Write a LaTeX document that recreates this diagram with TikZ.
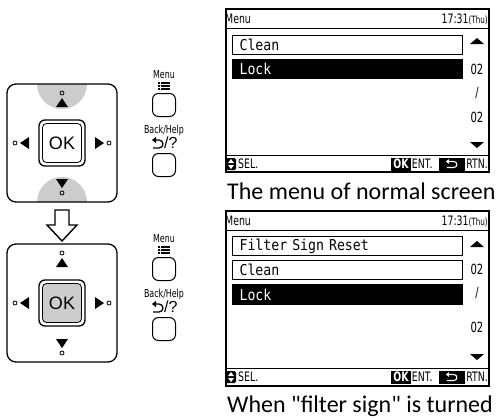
\documentclass[tikz,border=0pt]{standalone}
\usepackage{fontspec}
\setmainfont{Carlito}[Ligatures=TeXOff]
\newfontfamily\lcdfont{DejaVu Sans Mono}[FakeStretch=0.88]
\newfontfamily\smallfont{DejaVu Sans}[FakeStretch=0.72]
\newfontfamily\keyfont{Liberation Sans}
\usetikzlibrary{
  arrows.meta,
  positioning,
  calc,
}

\tikzset{
  padframe/.style={draw, line width=1.3pt, rounded corners=9pt, minimum width=110pt, minimum height=118pt, inner sep=0pt},
  okkey/.style={draw, line width=1.3pt, rounded corners=6pt, minimum size=46pt, inner sep=0pt},
  okinner/.style={draw, line width=0.8pt, rounded corners=4pt, minimum size=39pt, inner sep=0pt, font=\keyfont\fontsize{18}{18}\selectfont},
  sidekey/.style={draw, line width=1pt, rounded corners=6pt, minimum size=23pt, inner sep=0pt},
  keylabel/.style={font=\smallfont\fontsize{11}{11}\selectfont, inner sep=0pt},
  lcdframe/.style={draw, line width=1.3pt},
  menurow/.style={draw, line width=1.2pt, minimum height=19pt, text width=216pt, inner xsep=7pt, inner ysep=0pt, align=left, font=\lcdfont\fontsize{15}{15}\selectfont},
  selrow/.style={fill=black, text=white},
  lcdsmall/.style={font=\smallfont\fontsize{13}{13}\selectfont, inner sep=0pt},
  pagenum/.style={font=\smallfont\fontsize{14}{14}\selectfont, inner sep=0pt},
  caption/.style={font=\fontsize{24}{24}\selectfont, inner sep=0pt, anchor=west},
}

\begin{document}
\begin{tikzpicture}[x=1pt, y=-1pt]

\useasboundingbox (0,0) rectangle (499,418);

% cross keys
\foreach \i/\dy/\capfill/\okfill in {1/0/gray!40/white,2/160/white/gray!40}{
  \begin{scope}[shift={(0,\dy)}]
    \begin{scope}
      \clip[rounded corners=9pt] (7,84) rectangle (117,202);
      \fill[\capfill] (62,84) circle (25pt);
      \fill[\capfill] (62,202) circle (25pt);
    \end{scope}
    \node[padframe] (pad-\i) at (62,143) {};
    \node[okkey] (ok-\i) at (62,143) {};
    \node[okinner, fill=\okfill] (okin-\i) at (62,143) {OK};
    \fill (56,107) -- (68,107) -- (62,98) -- cycle;
    \draw[line width=0.8pt] (62,93) circle (2pt);
    \fill (56,179) -- (68,179) -- (62,188) -- cycle;
    \draw[line width=0.8pt] (62,193) circle (2pt);
    \fill (29,137) -- (29,149) -- (20,143) -- cycle;
    \draw[line width=0.8pt] (15,143) circle (2pt);
    \fill (95,137) -- (95,149) -- (104,143) -- cycle;
    \draw[line width=0.8pt] (109,143) circle (2pt);
  \end{scope}
}

% hollow arrow
\draw[line width=1.4pt, line join=miter] (55,210) -- (69,210) -- (69,225) -- (77,225) -- (62,241) -- (47,225) -- (55,225) -- cycle;

% menu and back keys
\foreach \i/\by in {1/0,2/164}{
  \begin{scope}[shift={(0,\by)}]
    \node[keylabel] (menulbl-\i) at (164,75) {Menu};
    \foreach \k in {0,1,2}{
      \fill (158,82+\k*3.2) rectangle +(2,1.6);
      \fill (161,82+\k*3.2) rectangle +(9,1.6);
    }
    \node[sidekey] (menukey-\i) at (164,105) {};
    \node[keylabel] (backlbl-\i) at (164,130) {Back/Help};
    \node[keylabel, font=\keyfont\fontsize{16}{16}\selectfont, anchor=west] (helpq-\i) at (164,143) {/?};
    \draw[line width=1.3pt, -{Triangle[length=4pt,width=6pt]}] (153,148) -- (159,148) arc[start angle=-90, end angle=90, radius=4pt] -- (152,140);
    \node[sidekey] (backkey-\i) at (164,165) {};
  \end{scope}
}

% normal screen
\draw[lcdframe] (226,9) rectangle (489,172);
\draw[line width=1pt] (226,28) -- (489,28);
\draw[line width=1pt] (226,155) -- (489,155);
\node[lcdsmall, anchor=west] (head-1) at (225,19) {Menu};
\node[lcdsmall, anchor=east] (clock-1) at (488,19) {17:31{\fontsize{10}{10}\selectfont(Thu)}};
\node[menurow, anchor=north west] (clean-1) at (232,35) {Clean};
\node[menurow, selrow, below=4pt of clean-1] (lock-1) {Lock};
\fill (470,44) -- (484,44) -- (477,38) -- cycle;
\node[pagenum] (pa-1) at (477,69) {02};
\node[pagenum] (sl-1) at (477,93) {/};
\node[pagenum] (pb-1) at (477,117) {02};
\fill (470,142) -- (484,142) -- (477,148) -- cycle;
\node[caption] (cap-1) at (227,191) {The menu of normal screen};

% screen with filter sign
\draw[lcdframe] (226,211) rectangle (489,386);
\draw[line width=1pt] (226,230) -- (489,230);
\draw[line width=1pt] (226,368) -- (489,368);
\node[lcdsmall, anchor=west] (head-2) at (225,221) {Menu};
\node[lcdsmall, anchor=east] (clock-2) at (488,221) {17:31{\fontsize{10}{10}\selectfont(Thu)}};
\node[menurow, anchor=north west] (filter-2) at (232,236) {Filter Sign Reset};
\node[menurow, below=4pt of filter-2] (clean-2) {Clean};
\node[menurow, selrow, below=4pt of clean-2] (lock-2) {Lock};
\fill (470,247) -- (484,247) -- (477,241) -- cycle;
\node[pagenum] (pa-2) at (477,269) {02};
\node[pagenum] (sl-2) at (477,293) {/};
\node[pagenum] (pb-2) at (477,327) {02};
\fill (470,354) -- (484,354) -- (477,360) -- cycle;
\node[caption] (cap-2) at (227,406) {When "filter sign" is turned};

% footers
\foreach \s/\fy in {1/164,2/377}{
  \fill[rounded corners=1.5pt] (226,\fy-6) rectangle (236,\fy+6);
  \fill[white] (228,\fy-1) -- (234,\fy-1) -- (231,\fy-5) -- cycle;
  \fill[white] (228,\fy+1) -- (234,\fy+1) -- (231,\fy+5) -- cycle;
  \node[lcdsmall, anchor=west] (sel-\s) at (238,\fy) {SEL.};
  \node[lcdsmall, anchor=east] (rtn-\s) at (488,\fy) {RTN.};
  \node[fill=black, minimum width=26pt, minimum height=13pt, inner sep=0pt, left=1pt of rtn-\s] (back-\s) {};
  \draw[white, line width=1.1pt, -{Triangle[length=3pt,width=4.5pt]}] ($(back-\s.center)+(-5,3.5)$) -- ($(back-\s.center)+(2,3.5)$) arc[start angle=-90, end angle=90, radius=3pt] -- ($(back-\s.center)+(-6,-2.5)$);
  \node[lcdsmall, left=6pt of back-\s] (ent-\s) {ENT.};
  \node[fill=black, text=white, font=\smallfont\bfseries\fontsize{13}{13}\selectfont, minimum height=13pt, inner xsep=2pt, inner ysep=0pt, left=1pt of ent-\s] (okbox-\s) {OK};
}

\end{tikzpicture}
\end{document}
